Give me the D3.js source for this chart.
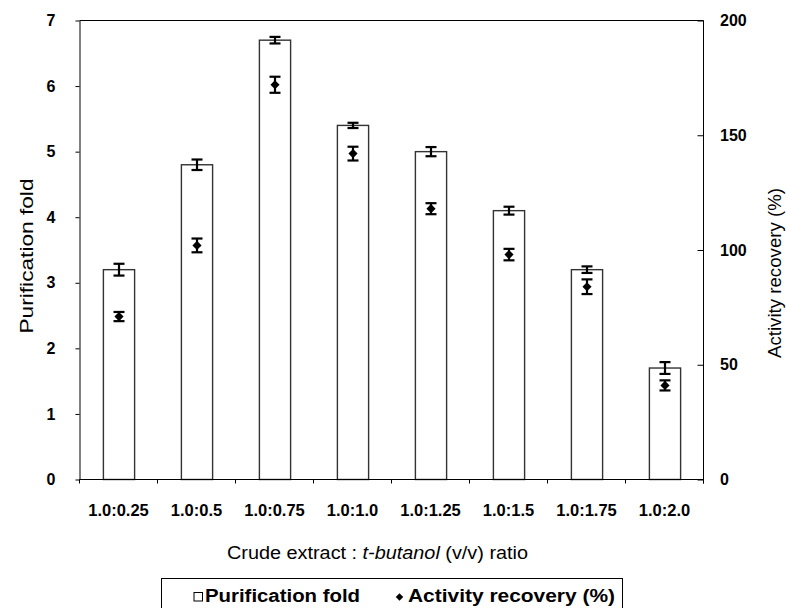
<!DOCTYPE html>
<html>
<head>
<meta charset="utf-8">
<script src="https://cdn.jsdelivr.net/npm/d3@7"></script>
<style>
  html, body { margin: 0; padding: 0; background: #fff; }
  svg { display: block; font-family: "Liberation Sans", Arial, sans-serif; }
</style>
</head>
<body>
<svg id="chart" width="786" height="608"></svg>
<script>
const categories = ["1.0:0.25", "1.0:0.5", "1.0:0.75", "1.0:1.0", "1.0:1.25", "1.0:1.5", "1.0:1.75", "1.0:2.0"];
const purificationFold = [3.2, 4.8, 6.7, 5.4, 5.0, 4.1, 3.2, 1.7];
const purificationErr = [0.09, 0.08, 0.05, 0.04, 0.07, 0.06, 0.05, 0.09];
const activityRecovery = [71, 102, 172, 142, 118, 98, 84, 41];
const activityErr = [2, 3, 3.5, 3, 2.4, 2.5, 3.2, 2.2];
const leftTicks = [0, 1, 2, 3, 4, 5, 6, 7];
const rightTicks = [0, 50, 100, 150, 200];

const svg = d3.select("#chart");
const L = 79.5, R = 703.5, T = 20.5, B = 479.5;

const x = d3.scaleBand().domain(categories).range([L, R]).paddingInner(0.6).paddingOuter(0.3);
const yL = d3.scaleLinear().domain([0, 7]).range([B, T]);
const yR = d3.scaleLinear().domain([0, 200]).range([B, T]);

// Frame top line
svg.append("line").attr("x1", L).attr("x2", R).attr("y1", T).attr("y2", T)
  .attr("stroke", "#000").attr("stroke-width", 1);

// Bars
svg.append("g").selectAll("rect").data(categories).join("rect")
  .attr("x", d => x(d) + 0.5)
  .attr("y", (d, i) => yL(purificationFold[i]))
  .attr("width", x.bandwidth())
  .attr("height", (d, i) => B - yL(purificationFold[i]))
  .attr("fill", "#fff").attr("stroke", "#333").attr("stroke-width", 1.4);

// Error bars helper
function errBars(vals, errs, scale, cls) {
  const g = svg.append("g").attr("class", cls).attr("stroke", "#000").attr("stroke-width", 2.2);
  categories.forEach((c, i) => {
    const cx = x(c) + x.bandwidth() / 2 + 0.5;
    const y1 = scale(vals[i] + errs[i]), y2 = scale(vals[i] - errs[i]);
    g.append("line").attr("x1", cx).attr("x2", cx).attr("y1", y1).attr("y2", y2);
    g.append("line").attr("x1", cx - 5.5).attr("x2", cx + 5.5).attr("y1", y1).attr("y2", y1);
    g.append("line").attr("x1", cx - 5.5).attr("x2", cx + 5.5).attr("y1", y2).attr("y2", y2);
  });
}
errBars(purificationFold, purificationErr, yL, "errL");
errBars(activityRecovery, activityErr, yR, "errR");

// Diamonds
svg.append("g").selectAll("path").data(categories).join("path")
  .attr("d", d3.symbol().type(d3.symbolSquare).size(42))
  .attr("transform", (d, i) => `translate(${x(d) + x.bandwidth() / 2 + 0.5},${yR(activityRecovery[i])}) rotate(45)`)
  .attr("fill", "#000");

// Left axis
const axL = svg.append("g").attr("transform", `translate(${L},0)`)
  .call(d3.axisLeft(yL).tickValues(leftTicks).tickFormat(d3.format("d")).tickSizeInner(4).tickSizeOuter(0).tickPadding(20));
axL.selectAll("text").attr("font-size", 16).attr("font-weight", "bold").attr("fill", "#000");

// Right axis
const axR = svg.append("g").attr("transform", `translate(${R},0)`)
  .call(d3.axisRight(yR).tickValues(rightTicks).tickFormat(d3.format("d")).tickSizeInner(-6).tickSizeOuter(0).tickPadding(16.5));
axR.selectAll("text").attr("font-size", 16).attr("font-weight", "bold").attr("fill", "#000");
axR.select(".domain").attr("d", `M0,${T}V${B + 4}`);

// Bottom axis (labels at centers, ticks at boundaries)
const axB = svg.append("g").attr("transform", `translate(0,${B})`)
  .call(d3.axisBottom(x).tickSize(0).tickPadding(25).tickSizeOuter(0));
axB.selectAll("text").attr("font-size", 16.5).attr("font-weight", "bold").attr("fill", "#000");
axB.select(".domain").attr("d", `M${L},0H${R}`);
const step = x.step();
const bounds = categories.map(c => x(c) - step * x.paddingInner() / 2).concat([R]);
axB.append("g").selectAll("line").data(bounds).join("line")
  .attr("x1", d => d).attr("x2", d => d).attr("y1", 0).attr("y2", 4)
  .attr("stroke", "#000");

// Axis titles
svg.append("text").attr("transform", "translate(33,256) rotate(-90)")
  .attr("text-anchor", "middle").attr("font-size", 17.5).attr("textLength", 155)
  .attr("lengthAdjust", "spacingAndGlyphs").text("Purification fold");
svg.append("text").attr("transform", "translate(781,273) rotate(-90)")
  .attr("text-anchor", "middle").attr("font-size", 17.5).attr("textLength", 170)
  .attr("lengthAdjust", "spacingAndGlyphs").text("Activity recovery (%)");

const xt = svg.append("text").attr("x", 227).attr("y", 559).attr("font-size", 17.5)
  .attr("textLength", 301).attr("lengthAdjust", "spacingAndGlyphs");
xt.append("tspan").text("Crude extract : ");
xt.append("tspan").attr("font-style", "italic").text("t-butanol");
xt.append("tspan").text(" (v/v) ratio");

// Legend
const lg = svg.append("g");
lg.append("rect").attr("x", 161.5).attr("y", 578.5).attr("width", 461).attr("height", 45)
  .attr("fill", "#fff").attr("stroke", "#000").attr("stroke-width", 1);
lg.append("rect").attr("x", 194).attr("y", 592.5).attr("width", 8.5).attr("height", 8.5)
  .attr("fill", "#fff").attr("stroke", "#000").attr("stroke-width", 1);
lg.append("text").attr("x", 205).attr("y", 602).attr("font-size", 17.5).attr("font-weight", "bold")
  .attr("textLength", 155).attr("lengthAdjust", "spacingAndGlyphs").text("Purification fold");
lg.append("path").attr("d", d3.symbol().type(d3.symbolSquare).size(28))
  .attr("transform", "translate(399.5,597) rotate(45)").attr("fill", "#000");
lg.append("text").attr("x", 408).attr("y", 602).attr("font-size", 17.5).attr("font-weight", "bold")
  .attr("textLength", 207).attr("lengthAdjust", "spacingAndGlyphs").text("Activity recovery (%)");
</script>
</body>
</html>
